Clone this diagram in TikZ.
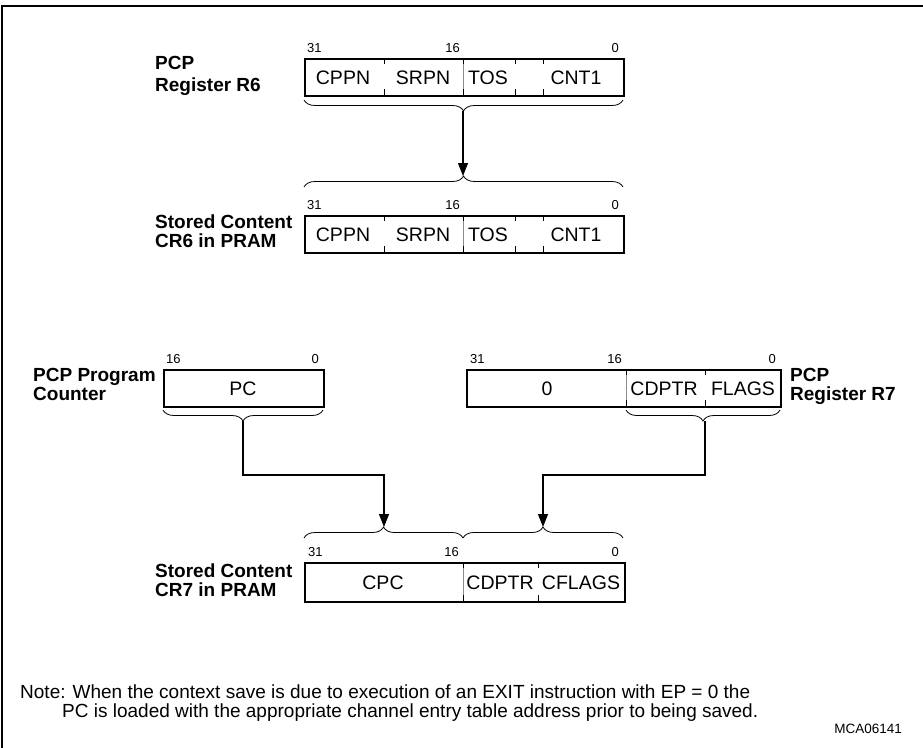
\documentclass[tikz,border=0pt]{standalone}
\usepackage{fontspec}
\setmainfont{Liberation Sans}
\usetikzlibrary{arrows.meta,decorations.pathreplacing}
\tikzset{
  regbox/.style={draw,line width=2.4pt,inner sep=0pt,anchor=north west},
  fld/.style={font=\fontsize{19.5}{22}\selectfont,anchor=base,inner sep=0pt},
  bitn/.style={font=\fontsize{13}{15}\selectfont,inner sep=0pt},
  lbl/.style={font=\bfseries\fontsize{19}{22}\selectfont,anchor=base west,inner sep=0pt},
  notetxt/.style={font=\fontsize{19}{22}\selectfont,anchor=base west,inner sep=0pt},
  tickmark/.style={line width=0.9pt},
  midline/.style={line width=0.6pt,black!45},
  brc/.style={decorate,decoration={brace,amplitude=11pt},line width=0.8pt},
  conn/.style={line width=1.1pt},
  arr/.style={-{Triangle[length=13pt,width=10pt]}}
}
\begin{document}
\begin{tikzpicture}[x=1pt,y=-1pt]
\useasboundingbox (0,0) rectangle (923,747);
\draw[line width=1.3pt] (2,760) -- (2,6) -- (930,6);

% ---------- R6 ----------
\node[regbox,minimum width=319pt,minimum height=37pt] (r6) at (304,57.5) {};
\draw[midline] (463,57.5) -- (463,94.5);
\foreach \xx in {384,463,515,543}{\draw[tickmark] (\xx,57.5) -- ++(0,6) (\xx,94.5) -- ++(0,-6);}
\node[fld] (r6a) at (343,84) {CPPN};
\node[fld] (r6b) at (423,84) {SRPN};
\node[fld] (r6c) at (488,84) {TOS};
\node[fld] (r6d) at (576,84) {CNT1};
\node[bitn,anchor=base west] (r6n31) at (307,52) {31};
\node[bitn,anchor=base east] (r6n16) at (460,52) {16};
\node[bitn,anchor=base east] (r6n0) at (619,52) {0};
\node[lbl] (r6l1) at (155,69) {PCP};
\node[lbl] (r6l2) at (155,91) {Register R6};

\coordinate (r6bl) at (304,100);
\coordinate (r6br) at (623,100);
\coordinate (r6tip) at (463,111);
\draw[brc] (r6br) -- (r6bl);

% ---------- CR6 ----------
\coordinate (cr6l) at (304,187);
\coordinate (cr6r) at (623,187);
\coordinate (cr6tip) at (463,176);
\draw[brc] (cr6l) -- (cr6r);
\draw[conn,arr] (r6tip) -- (cr6tip);

\node[regbox,minimum width=319pt,minimum height=37pt] (cr6) at (304,215) {};
\draw[midline] (463,215) -- (463,252);
\foreach \xx in {384,463,515,543}{\draw[tickmark] (\xx,215) -- ++(0,6) (\xx,252) -- ++(0,-6);}
\node[fld] (cr6a) at (343,241.5) {CPPN};
\node[fld] (cr6b) at (423,241.5) {SRPN};
\node[fld] (cr6c) at (488,241.5) {TOS};
\node[fld] (cr6d) at (576,241.5) {CNT1};
\node[bitn,anchor=base west] (cr6n31) at (307,209.5) {31};
\node[bitn,anchor=base east] (cr6n16) at (460,209.5) {16};
\node[bitn,anchor=base east] (cr6n0) at (619,209.5) {0};
\node[lbl] (cr6l1) at (155,228) {Stored Content};
\node[lbl] (cr6l2) at (155,247) {CR6 in PRAM};

% ---------- PC ----------
\node[regbox,minimum width=160pt,minimum height=37pt] (pc) at (163,369) {};
\node[fld] (pca) at (243,395.5) {PC};
\node[bitn,anchor=base west] (pcn16) at (166,363.5) {16};
\node[bitn,anchor=base east] (pcn0) at (319,363.5) {0};
\node[lbl] (pcl1) at (33,381) {PCP Program};
\node[lbl] (pcl2) at (33,400) {Counter};
\coordinate (pcbl) at (163,410);
\coordinate (pcbr) at (323,410);
\coordinate (pctip) at (243,421);
\draw[brc] (pcbr) -- (pcbl);

% ---------- R7 ----------
\node[regbox,minimum width=314pt,minimum height=37pt] (r7) at (466,369) {};
\draw[midline] (626,369) -- (626,406);
\foreach \xx in {626,705}{\draw[tickmark] (\xx,369) -- ++(0,6) (\xx,406) -- ++(0,-6);}
\node[fld] (r7a) at (547,395.5) {0};
\node[fld] (r7b) at (664,395.5) {CDPTR};
\node[fld] (r7c) at (743,395.5) {FLAGS};
\node[bitn,anchor=base west] (r7n31) at (470,363.5) {31};
\node[bitn,anchor=base east] (r7n16) at (622,363.5) {16};
\node[bitn,anchor=base east] (r7n0) at (776,363.5) {0};
\node[lbl] (r7l1) at (790,381) {PCP};
\node[lbl] (r7l2) at (790,400) {Register R7};
\coordinate (r7bl) at (626,410);
\coordinate (r7br) at (780,410);
\coordinate (r7tip) at (705,421);
\draw[brc] (r7br) -- (r7bl);

% ---------- CR7 ----------
\coordinate (c7a) at (304,538);
\coordinate (c7m) at (463,538);
\coordinate (c7b) at (623,538);
\coordinate (c7tipl) at (384,527);
\coordinate (c7tipr) at (543,527);
\draw[brc] (c7a) -- (c7m);
\draw[brc] (c7m) -- (c7b);
\draw[conn,arr] (pctip) |- (314,475) -| (c7tipl);
\draw[conn,arr] (r7tip) |- (614,475) -| (c7tipr);

\node[regbox,minimum width=320pt,minimum height=39pt] (cr7) at (304,562) {};
\draw[midline] (463,562) -- (463,601);
\foreach \xx in {463,538}{\draw[tickmark] (\xx,562) -- ++(0,6) (\xx,601) -- ++(0,-6);}
\node[fld] (cr7a) at (383,589) {CPC};
\node[fld] (cr7b) at (500,589) {CDPTR};
\node[fld] (cr7c) at (581,589) {CFLAGS};
\node[bitn,anchor=base west] (cr7n31) at (308,556.5) {31};
\node[bitn,anchor=base east] (cr7n16) at (459,556.5) {16};
\node[bitn,anchor=base east] (cr7n0) at (619,556.5) {0};
\node[lbl] (cr7l1) at (155,577) {Stored Content};
\node[lbl] (cr7l2) at (155,596) {CR7 in PRAM};

% ---------- Note ----------
\node[notetxt] (note1) at (20,698) {Note: When the context save is due to execution of an EXIT instruction with EP = 0 the};
\node[notetxt] (note2) at (62,717) {PC is loaded with the appropriate channel entry table address prior to being saved.};
\node[font=\fontsize{13.5}{16}\selectfont,anchor=base east,inner sep=0pt] (mca) at (902,733) {MCA06141};
\end{tikzpicture}
\end{document}
